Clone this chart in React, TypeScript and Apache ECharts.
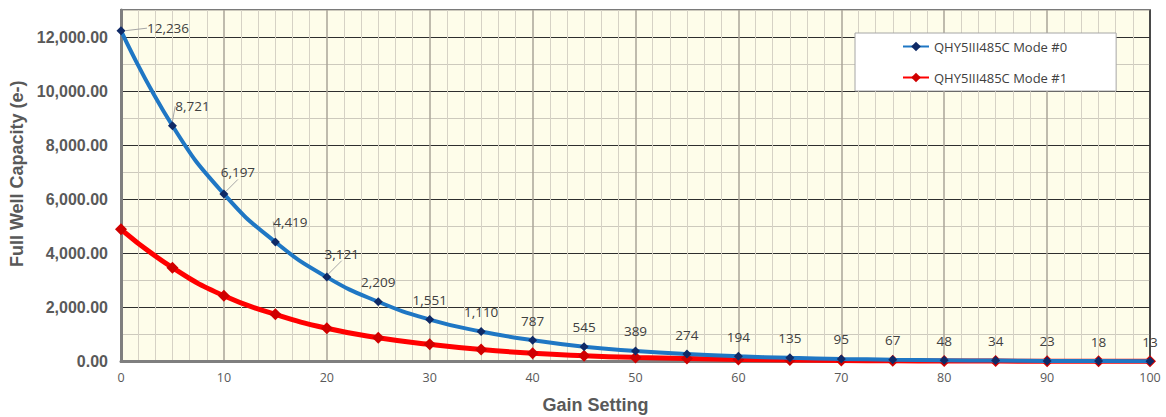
import React, { useEffect, useRef } from "react";
import * as echarts from "echarts";

const gainSettings = [0, 5, 10, 15, 20, 25, 30, 35, 40, 45, 50, 55, 60, 65, 70, 75, 80, 85, 90, 95, 100];
const mode0Values = [12236, 8721, 6197, 4419, 3121, 2209, 1551, 1110, 787, 545, 389, 274, 194, 135, 95, 67, 48, 34, 23, 18, 13];
const mode1Values = [4890, 3470, 2430, 1745, 1230, 880, 635, 440, 305, 215, 150, 108, 76, 54, 38, 27, 19, 14, 10, 7, 5];
const seriesNames = ["QHY5III485C Mode #0", "QHY5III485C Mode #1"];
const yTickLabels = [0, 2000, 4000, 6000, 8000, 10000, 12000];

const labelShift: Record<number, [number, number]> = {
  0: [47, 17],
  1: [20, 0],
  2: [14, -2],
  3: [15, -1],
  4: [15, -4],
};

export default function App() {
  const ref = useRef<HTMLDivElement>(null);
  useEffect(() => {
    if (!ref.current) return;
    const chart = echarts.init(ref.current, null, { renderer: "svg" });
    const xColors = gainSettings.filter((g) => g % 10 === 0).map((g) => (g === 100 ? "#3a3a3a" : "#aaa598"));
    chart.setOption({
      animation: false,
      backgroundColor: "#ffffff",
      grid: {
        left: 121,
        right: 16,
        top: 10,
        bottom: 55.5,
        outerBoundsMode: "none",
        containLabel: false,
        show: true,
        backgroundColor: "#fefdea",
        borderColor: "#7a7a7a",
        borderWidth: 2,
      },
      legend: {
        orient: "vertical",
        left: 855,
        top: 33,
        padding: [7, 49, 7, 47],
        itemGap: 18,
        itemWidth: 26,
        itemHeight: 12,
        backgroundColor: "#ffffff",
        borderColor: "#a6a6a6",
        borderWidth: 1,
        textStyle: { fontFamily: "Open Sans", fontSize: 13, color: "#404040" },
        data: seriesNames,
      },
      xAxis: {
        type: "value",
        min: 0,
        max: 100,
        interval: 10,
        name: "Gain Setting",
        nameLocation: "middle",
        nameGap: 34,
        nameTextStyle: {
          fontFamily: "Liberation Sans",
          fontWeight: "bold",
          fontSize: 18,
          color: "#595959",
          padding: [0, 80, 0, 0],
        },
        axisLine: { show: true, onZero: false, lineStyle: { color: "#7f7f7f", width: 3 } },
        axisTick: { show: false },
        axisLabel: { fontFamily: "Open Sans", fontSize: 12.5, color: "#595959", margin: 9 },
        splitLine: { show: true, lineStyle: { color: xColors, width: 1.5 } },
        minorTick: { show: false, splitNumber: 6 },
        minorSplitLine: { show: true, lineStyle: { color: "#d6d2c5", width: 1 } },
      },
      yAxis: {
        type: "value",
        min: 0,
        max: 13000,
        interval: 1000,
        name: "Full Well Capacity (e-)",
        nameLocation: "middle",
        nameGap: 95,
        nameTextStyle: {
          fontFamily: "Liberation Sans",
          fontWeight: "bold",
          fontSize: 18,
          color: "#595959",
          padding: [0, 0, 0, 24],
        },
        axisLine: { show: true, lineStyle: { color: "#7f7f7f", width: 3 } },
        axisTick: { show: false },
        axisLabel: {
          fontFamily: "Liberation Sans",
          fontWeight: "bold",
          fontSize: 16,
          color: "#595959",
          margin: 13,
          formatter: (v: number) =>
            yTickLabels.indexOf(v) >= 0
              ? v.toLocaleString("en-US", { minimumFractionDigits: 2, maximumFractionDigits: 2 })
              : "",
        },
        splitLine: { show: true, lineStyle: { color: ["#2e2e2e", "#cdcabd"], width: 1.2 } },
      },
      series: [
        {
          name: seriesNames[1],
          type: "line",
          smooth: true,
          data: gainSettings.map((g, i) => [g, mode1Values[i]]),
          lineStyle: { color: "#ff0000", width: 5 },
          itemStyle: { color: "#d00000" },
          color: "#ff0000",
          symbol: "diamond",
          symbolSize: 12,
          z: 2,
        },
        {
          name: seriesNames[0],
          type: "line",
          smooth: true,
          data: gainSettings.map((g, i) => ({
            value: [g, mode0Values[i]],
            labelLine: { show: i in labelShift },
          })),
          lineStyle: { color: "#1f77c4", width: 4 },
          itemStyle: { color: "#0f2a66" },
          color: "#1f77c4",
          symbol: "diamond",
          symbolSize: 9,
          z: 3,
          label: {
            show: true,
            position: "top",
            distance: 8,
            fontFamily: "Open Sans",
            fontSize: 13.5,
            color: "#404040",
            formatter: (p: any) => Number(p.value[1]).toLocaleString("en-US"),
          },
          labelLine: { show: false, lineStyle: { color: "#a6a6a6", width: 1 } },
          labelLayout: (params: any) => {
            const s = labelShift[params.dataIndex];
            return s ? { dx: s[0], dy: s[1] } : {};
          },
        },
      ],
    });
    return () => chart.dispose();
  }, []);
  return (
    <div
      ref={ref}
      style={{ position: "absolute", left: 0, top: 0, width: 1166, height: 417 }}
    />
  );
}
